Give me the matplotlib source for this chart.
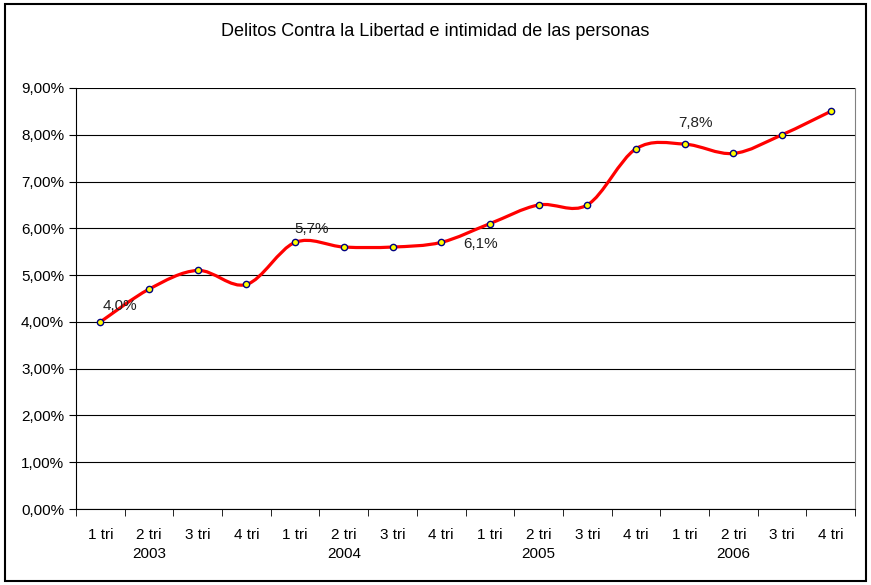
import numpy as np
import matplotlib.pyplot as plt
from matplotlib.path import Path
from matplotlib.patches import PathPatch
from matplotlib.ticker import FuncFormatter

plt.rcParams['font.family'] = ['Liberation Sans', 'DejaVu Sans']

trimestres = ['1 tri', '2 tri', '3 tri', '4 tri'] * 4
anios = ['2003', '2004', '2005', '2006']
valores = [4.0, 4.7, 5.1, 4.8, 5.7, 5.6, 5.6, 5.7, 6.1, 6.5, 6.5, 7.7, 7.8, 7.6, 8.0, 8.5]
etiquetas = {0: '4,0%', 4: '5,7%', 8: '6,1%', 12: '7,8%'}
desplaz = {0: (14.4, 11.5), 4: (11.5, 9.4), 8: (-6.5, -14.4), 12: (8, 15)}

fig = plt.figure(figsize=(8.71, 5.85), dpi=100)
ax = fig.add_axes([0.0873, 0.1299, 0.8944, 0.7197])

# linea suavizada (bezier tipo Excel)
x = np.arange(len(valores))
y = np.array(valores)
verts = [(x[0], y[0])]
codes = [Path.MOVETO]
n = len(x)
for i in range(n - 1):
    p0 = np.array([x[max(i - 1, 0)], y[max(i - 1, 0)]])
    p1 = np.array([x[i], y[i]])
    p2 = np.array([x[i + 1], y[i + 1]])
    p3 = np.array([x[min(i + 2, n - 1)], y[min(i + 2, n - 1)]])
    c1 = p1 + (p2 - p0) / 6
    c2 = p2 - (p3 - p1) / 6
    verts += [tuple(c1), tuple(c2), tuple(p2)]
    codes += [Path.CURVE4] * 3
ax.add_patch(PathPatch(Path(verts, codes), facecolor='none', edgecolor='#ff0000', lw=2.3, zorder=3))
ax.plot(x, y, ls='none', marker='o', ms=4.5, mfc='#ffff00', mec='#000080', mew=1, zorder=4)

for i, t in etiquetas.items():
    ax.annotate(t, (x[i], y[i]), xytext=desplaz[i], textcoords='offset points',
                ha='center', va='center', fontsize=11, color='#222222')

ax.set_xlim(-0.5, 15.5)
ax.set_ylim(0, 9)
ax.set_yticks(np.arange(0, 10, 1))
ax.yaxis.set_major_formatter(FuncFormatter(lambda v, p: f'{v:.2f}%'.replace('.', ',')))
ax.grid(axis='y', color='black', lw=0.8)
ax.set_axisbelow(True)

ax.set_xticks(x)
ax.set_xticklabels(trimestres)
ax.set_xticks(np.arange(-0.5, 16, 1), minor=True)
ax.tick_params(axis='x', which='major', length=0, pad=14, labelsize=11)
ax.tick_params(axis='x', which='minor', length=5, direction='out')
ax.tick_params(axis='y', length=5, labelsize=11)

for k, a in enumerate(anios):
    ax.text(4 * k + 1, -0.09, a, transform=ax.get_xaxis_transform(), ha='center', va='top', fontsize=11)

ax.spines['top'].set_visible(False)
ax.spines['right'].set_color('#808080')
ax.spines['left'].set_color('black')
ax.spines['bottom'].set_color('black')

fig.text(0.5, 0.946, 'Delitos Contra la Libertad e intimidad de las personas', ha='center', va='center', fontsize=13)
fig.add_artist(plt.Rectangle((0.006, 0.006), 0.988, 0.988, transform=fig.transFigure, fill=False, ec='black', lw=1.5))

fig.savefig('out.png', dpi=100)
